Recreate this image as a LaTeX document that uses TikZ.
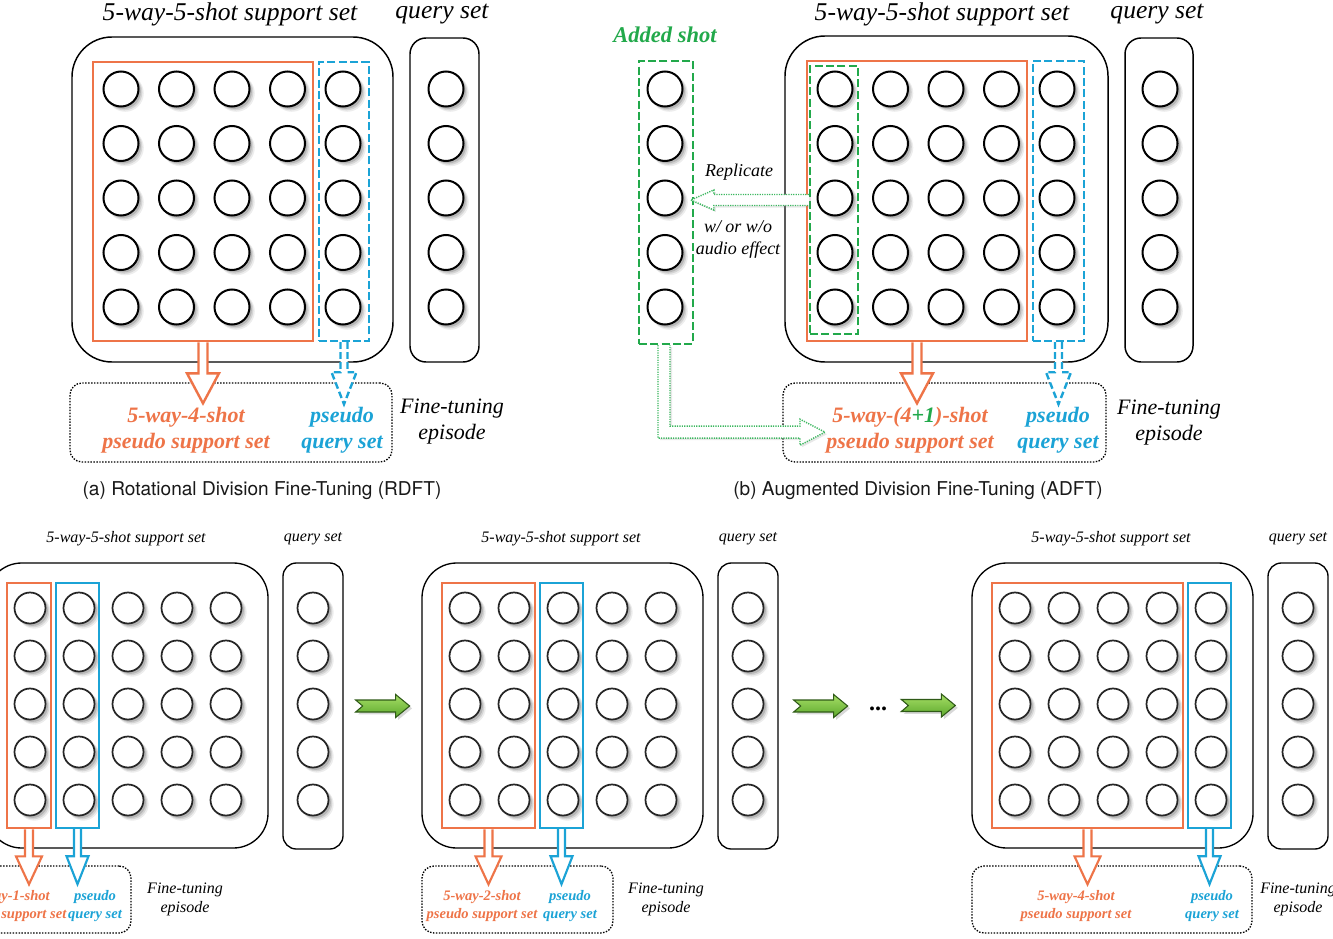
\documentclass[tikz,border=0pt]{standalone}
\usepackage{fontspec}
\setmainfont{Liberation Serif}
\newfontfamily\capfont{TeX Gyre Heros}
\usetikzlibrary{shadows,fit,calc}
\definecolor{oran}{HTML}{EE7448}
\definecolor{blu}{HTML}{1BA3D6}
\definecolor{grn}{HTML}{22A94B}
\definecolor{dgrn}{HTML}{3DB860}
\definecolor{agrnA}{HTML}{A6DE66}
\definecolor{agrnB}{HTML}{5CA82C}
\definecolor{agrnD}{HTML}{2F5A17}
\tikzset{
 softshadow/.style={
   drop shadow={shadow xshift=3pt,shadow yshift=-3pt,shadow scale=1.06,opacity=0.07,fill=black},
   drop shadow={shadow xshift=2.4pt,shadow yshift=-2.4pt,shadow scale=1.03,opacity=0.10,fill=black},
   drop shadow={shadow xshift=1.8pt,shadow yshift=-1.8pt,opacity=0.14,fill=black}},
 circT/.style={circle,draw=black,line width=1.5pt,fill=white,minimum size=26.25pt,inner sep=0pt,softshadow},
 circB/.style={circle,draw=black!85,line width=1.3pt,fill=white,minimum size=23.25pt,inner sep=0pt,softshadow},
 outerT/.style={draw=black,line width=1.1pt,rounded corners=30pt,inner sep=0pt},
 queryT/.style={draw=black,line width=1.1pt,rounded corners=12pt,inner sep=0pt},
 outerB/.style={draw=black,line width=1pt,rounded corners=26pt,inner sep=0pt},
 queryB/.style={draw=black,line width=1pt,rounded corners=10pt,inner sep=0pt},
 rectO/.style={draw=oran,line width=2pt,inner sep=0pt},
 rectBd/.style={draw=blu,line width=1.8pt,dash pattern=on 6pt off 2.5pt,inner sep=0pt},
 rectB/.style={draw=blu,line width=1.8pt,inner sep=0pt},
 gdash/.style={draw=grn,line width=1.8pt,dash pattern=on 6pt off 2.5pt,inner sep=0pt},
 dotbox/.style={draw=black,line width=1pt,dash pattern=on 1.1pt off 1.1pt,rounded corners=9pt,inner sep=0pt},
 arrO/.style={draw=oran,line width=1.8pt,fill=white},
 arrBd/.style={draw=blu,line width=1.8pt,fill=white,dash pattern=on 5pt off 2.5pt},
 arrB/.style={draw=blu,line width=1.6pt,fill=white},
 arrOB/.style={draw=oran,line width=1.6pt,fill=white},
 gdot/.style={draw=dgrn,line width=1.1pt,dash pattern=on 0.9pt off 0.9pt,fill=white,
   drop shadow={opacity=0.18,shadow xshift=1.5pt,shadow yshift=-1.5pt}},
 garr/.style={draw=agrnD,line width=0.8pt,top color=agrnA,bottom color=agrnB,
   drop shadow={opacity=0.3,shadow xshift=1.8pt,shadow yshift=-1.8pt}},
 ttlT/.style={font=\fontsize{19.2}{23}\selectfont\itshape,inner sep=0pt},
 lblT/.style={font=\fontsize{16.5}{19.5}\selectfont\bfseries\itshape,align=center,inner sep=0pt},
 ftT/.style={font=\fontsize{16.5}{19.5}\selectfont\itshape,align=center,inner sep=0pt},
 smallT/.style={font=\fontsize{13.5}{16.5}\selectfont\itshape,align=center,inner sep=0pt},
 capst/.style={font=\capfont\fontsize{14.3}{16}\selectfont,text=black!90,inner sep=0pt},
 ttlB/.style={font=\fontsize{12}{14}\selectfont\itshape,inner sep=0pt},
 lblB/.style={font=\fontsize{10.9}{13.5}\selectfont\bfseries\itshape,align=center,inner sep=0pt},
 ftB/.style={font=\fontsize{12}{14.25}\selectfont\itshape,align=center,inner sep=0pt},
}
% hollow downward arrow: style, start anchor, shaft length, head length, shaft half width, head half width
\newcommand\hdown[6]{%
  \draw[#1] ($(#2)+(-#5,0)$) -- ++(0,#3) -- ++(-#6+#5,0) -- ++(#6,#4) -- ++(#6,-#4) -- ++(-#6+#5,0) -- ++(0,-#3);}
% green chevron arrow starting at a named coordinate
\newcommand\garrow[1]{%
  \path[garr] ($(#1)+(0,-6)$) -- ++(40,0) -- ++(0,-5.5) -- ++(14,11.5) -- ++(-14,11.5) -- ++(0,-5.5) -- ++(-40,0) -- ++(7,-6) -- cycle;}
% bottom panel: prefix, x offset, k, support label x, support first line, query label x, dotted right, ft x
\newcommand\bpanel[8]{%
  \node[ttlB] (#1-t1) at (#2+139,539) {5-way-5-shot support set};
  \node[ttlB] (#1-t2) at (#2+326,539) {query set};
  \node[outerB,fit={(#2,563) (#2+281,848)}] (#1-out) {};
  \node[queryB,fit={(#2+296,563) (#2+356,849)}] (#1-q) {};
  \foreach \i in {0,...,4}{\foreach \j in {0,...,4}{\node[circB] (#1-c\i\j) at (#2+43+49*\i,608+48*\j) {};}}
  \foreach \j in {0,...,4}{\node[circB] (#1-qc\j) at (#2+326,608+48*\j) {};}
  \pgfmathsetmacro\bpOR{#2+43+49*(#3-1)+21}
  \pgfmathsetmacro\bpBL{#2+43+49*#3-23}
  \pgfmathsetmacro\bpBR{#2+43+49*#3+20}
  \node[rectO,fit={(#2+20,583) (\bpOR,828)}] (#1-or) {};
  \node[rectB,fit={(\bpBL,583) (\bpBR,828)}] (#1-bl) {};
  \node[dotbox,fit={(#2,866) (#2+#7,933)}] (#1-ep) {};
  \hdown{arrOB}{#1-or.south}{27}{28}{4}{13}
  \hdown{arrB}{#1-bl.south}{27}{28}{3.5}{11}
  \node[lblB,text=oran] (#1-l1) at (#2+#4,906) {#5\\pseudo support set};
  \node[lblB,text=blu] (#1-l2) at (#2+#6,906) {pseudo\\query set};
  \node[ftB] (#1-ft) at (#2+#8,899.5) {Fine-tuning\\episode};
}
\begin{document}
\begin{tikzpicture}[x=0.75pt,y=-0.75pt]
\useasboundingbox (0,0) rectangle (1333,938);
\clip (0,0) rectangle (1333,938);
\fill[white] (0,0) rectangle (1333,938);

% ---------------- panel (a)
\node[ttlT] (a-t1) at (230,14) {5-way-5-shot support set};
\node[ttlT] (a-t2) at (442,14) {query set};
\node[outerT,fit={(72,37) (393,362)}] (a-out) {};
\node[queryT,fit={(410,38) (479,362)}] (a-q) {};
\foreach \i in {0,...,4}{\foreach \j in {0,...,4}{\node[circT] (a-c\i\j) at (121+55.5*\i,89+54.5*\j) {};}}
\foreach \j in {0,...,4}{\node[circT] (a-qc\j) at (446,89+54.5*\j) {};}
\node[rectO,fit={(93,62) (313,341)}] (a-or) {};
\node[rectBd,fit={(319,62) (369,341)}] (a-bl) {};
\node[dotbox,fit={(70,383) (392,462)}] (a-ep) {};
\hdown{arrO}{a-or.south}{31}{30}{4.5}{16}
\hdown{arrBd}{a-bl.south}{30}{32}{3.5}{12.5}
\node[lblT,text=oran] (a-l1) at (186,430) {5-way-4-shot\\pseudo support set};
\node[lblT,text=blu] (a-l2) at (342,430) {pseudo\\query set};
\node[ftT] (a-ft) at (452,422) {Fine-tuning\\episode};
\node[capst] (a-cap) at (262,491) {(a) Rotational Division Fine-Tuning (RDFT)};

% ---------------- panel (b)
\node[ttlT] (b-t1) at (942,14) {5-way-5-shot support set};
\node[ttlT] (b-t2) at (1157,14) {query set};
\node[outerT,fit={(785,36) (1108,362)}] (b-out) {};
\node[queryT,fit={(1125,38) (1193,362)}] (b-q) {};
\foreach \i in {0,...,4}{\foreach \j in {0,...,4}{\node[circT] (b-c\i\j) at (835+55.5*\i,89+54.5*\j) {};}}
\foreach \j in {0,...,4}{\node[circT] (b-qc\j) at (1160,89+54.5*\j) {};}
\node[rectO,fit={(807,61) (1027,341)}] (b-or) {};
\node[rectBd,fit={(1033,61) (1084,341)}] (b-bl) {};
\node[gdash,fit={(810,66) (858,334)}] (b-gi) {};
\node[font=\fontsize{16.9}{20}\selectfont\bfseries\itshape,text=grn,inner sep=0pt] (b-add) at (665,35) {Added shot};
\node[gdash,fit={(639,61) (693,344)}] (b-g) {};
\foreach \j in {0,...,4}{\node[circT] (b-gc\j) at (665,89+54.5*\j) {};}
\node[dotbox,fit={(783,383) (1106,462)}] (b-ep) {};
\hdown{arrO}{b-or.south}{31}{30}{4.5}{16}
\hdown{arrBd}{b-bl.south}{30}{32}{3.5}{12.5}
% replicate arrow (from the first column to the added shot)
\draw[gdot] ($(b-gi.west)+(0,-5.5)$) -- ++(-95,0) -- ++(0,-4.5) -- ++(-23,10) -- ++(23,10) -- ++(0,-4.5) -- ++(95,0);
% added shot to pseudo support set
\draw[gdot] ($(b-g.south)+(-8,0)$) -- ++(0,93) -- ++(142,0) -- ++(0,7) -- ++(25,-13) -- ++(-25,-13) -- ++(0,7) -- ++(-130,0) -- ++(0,-81);
\node[smallT] (b-rep) at (739,172) {Replicate};
\node[smallT] (b-aud) at (738,239) {w/ or w/o\\audio effect};
\node[lblT,text=oran] (b-l1) at (910,430) {5-way-(4\textcolor{grn}{+1})-shot\\pseudo support set};
\node[lblT,text=blu] (b-l2) at (1058,430) {pseudo\\query set};
\node[ftT] (b-ft) at (1169,423) {Fine-tuning\\episode};
\node[capst] (b-cap) at (918,491) {(b) Augmented Division Fine-Tuning (ADFT)};

% ---------------- bottom row
\bpanel{L}{-13}{1}{24}{5-way-1-shot}{108}{144}{198}
\bpanel{M}{422}{2}{60}{5-way-2-shot}{148}{191}{244}
\bpanel{R}{972}{4}{104}{5-way-4-shot}{240}{280}{326}

\coordinate (g1) at ($(L-q.east)+(12,0)$);
\coordinate (g2) at ($(M-q.east)+(15,0)$);
\coordinate (g3) at ($(R-out.west)+(-70,0)$);
\garrow{g1}
\garrow{g2}
\garrow{g3}
\node[font=\fontsize{18}{20}\selectfont\bfseries,anchor=base,inner sep=0pt] (dots) at (878,710) {...};
\end{tikzpicture}
\end{document}
